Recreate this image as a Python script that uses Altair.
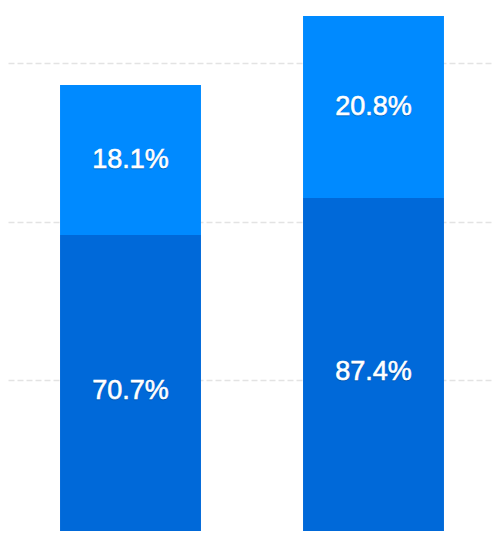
import altair as alt
import pandas as pd

# Data
categories = ["A", "B"]
series = ["base", "top"]
base_values = [98.3, 109.9]      # dark lower segments (scale units)
top_values = [47.2, 57.4]        # light upper segments (scale units)
base_labels = ["70.7%", "87.4%"]
top_labels = ["18.1%", "20.8%"]
grid_values = [2.5, 52.5, 102.5, 152.5]
y_domain = [5.0, 169.8]

rows = []
for i, c in enumerate(categories):
    rows.append({"cat": c, "series": "base", "order": 0, "value": base_values[i], "label": base_labels[i]})
    rows.append({"cat": c, "series": "top", "order": 1, "value": top_values[i], "label": top_labels[i]})
df = pd.DataFrame(rows)

base = alt.Chart(df).transform_stack(
    stack="value", groupby=["cat"], as_=["y0", "y1"], sort=[alt.SortField("order")]
).transform_calculate(mid="(datum.y0 + datum.y1) / 2")

xenc = alt.X("cat:N", axis=None,
             scale=alt.Scale(paddingInner=0.42, paddingOuter=0.2059, align=0.52))
yscale = alt.Scale(domain=y_domain, nice=False, zero=False)

bars = base.mark_bar(clip=True).encode(
    x=xenc,
    y=alt.Y("y0:Q", scale=yscale,
            axis=alt.Axis(values=grid_values, grid=True, labels=False, ticks=False,
                          domain=False, title=None, gridDash=[6, 3],
                          gridColor="#e3e3e3", gridWidth=1.5)),
    y2="y1:Q",
    color=alt.Color("series:N", legend=None,
                    scale=alt.Scale(domain=series, range=["#0069D9", "#008AFF"])),
)

shadow = base.mark_text(fontSize=27, font="Liberation Sans", color="#003a7a",
                        opacity=0.45, dy=1, baseline="middle",
                        stroke="#003a7a", strokeWidth=0.6).encode(
    x=xenc, y=alt.Y("mid:Q", scale=yscale), text="label:N")

labels = base.mark_text(fontSize=27, font="Liberation Sans", color="white",
                        baseline="middle", stroke="white", strokeWidth=0.6).encode(
    x=xenc, y=alt.Y("mid:Q", scale=yscale), text="label:N")

chart = alt.layer(bars, shadow, labels).properties(
    width=484, height=523, padding=0
).configure_view(stroke=None)

chart.save("out.html", embed_options={"renderer": "svg", "actions": False})
